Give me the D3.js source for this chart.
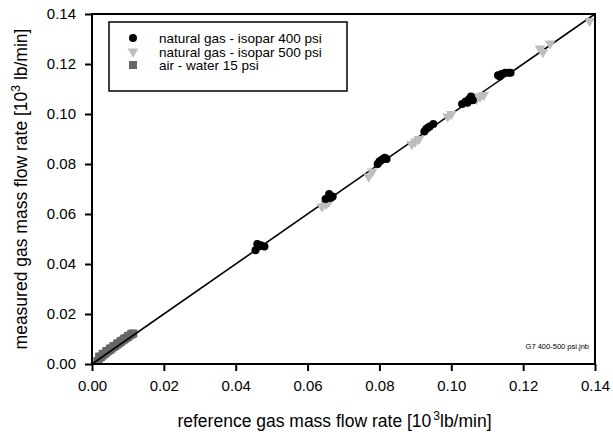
<!DOCTYPE html>
<html><head><meta charset="utf-8">
<script src="https://cdn.jsdelivr.net/npm/d3@7"></script>
<style>body{margin:0;background:#fff}svg{display:block;font-family:Arial,"Liberation Sans",sans-serif}</style>
</head><body><svg id="c" width="613" height="437"></svg>
<script>
const seriesNames = ["natural gas - isopar 400 psi","natural gas - isopar 500 psi","air - water 15 psi"];
const gas400X = [0.0455,0.046,0.0465,0.047,0.048,0.065,0.066,0.066,0.0665,0.067,0.0795,0.080,0.0805,0.081,0.0815,0.082,0.0925,0.093,0.0935,0.094,0.095,0.103,0.104,0.1045,0.105,0.1055,0.106,0.113,0.1135,0.114,0.115,0.116,0.1165];
const gas400Y = [0.0455,0.048,0.047,0.0475,0.047,0.066,0.068,0.0665,0.0665,0.067,0.080,0.081,0.0815,0.082,0.0825,0.082,0.093,0.094,0.0945,0.095,0.096,0.104,0.105,0.1045,0.106,0.107,0.1055,0.1155,0.115,0.116,0.1165,0.1165,0.1165];
const gas500X = [0.064,0.065,0.0655,0.066,0.077,0.078,0.089,0.090,0.091,0.099,0.100,0.106,0.107,0.108,0.109,0.1247,0.1255,0.1275,0.1385];
const gas500Y = [0.063,0.064,0.0645,0.065,0.075,0.077,0.088,0.089,0.090,0.099,0.100,0.107,0.106,0.107,0.1076,0.1262,0.1248,0.1282,0.1372];
const airX = [0.0015,0.002,0.0025,0.003,0.0035,0.004,0.0045,0.005,0.0055,0.006,0.0065,0.007,0.0075,0.008,0.0085,0.009,0.0095,0.010,0.0105,0.011,0.0115,
              0.002,0.003,0.004,0.005,0.006,0.007,0.008,0.009,0.010,0.011];
const airY = [0.0012,0.0022,0.0028,0.0034,0.0040,0.0046,0.0052,0.0056,0.0062,0.0068,0.0072,0.0078,0.0083,0.0088,0.0094,0.0098,0.0104,0.0108,0.0114,0.0118,0.0122,
              0.0030,0.0041,0.0052,0.0062,0.0072,0.0082,0.0092,0.0102,0.0112,0.0121];
const xTicks = [0,0.02,0.04,0.06,0.08,0.10,0.12,0.14];
const yTicks = [0,0.02,0.04,0.06,0.08,0.10,0.12,0.14];

const svg = d3.select("#c");
const L=92,R=595,T=14,B=364;
const x = d3.scaleLinear().domain([0,0.14]).range([L,R]);
const y = d3.scaleLinear().domain([0,0.14]).range([B,T]);

const sq = d3.symbol().type(d3.symbolSquare).size(64);
const tri = d3.symbol().type(d3.symbolTriangle).size(50);
const circ = d3.symbol().type(d3.symbolCircle).size(50);

svg.append("g").selectAll("path").data(airX.map((v,i)=>[v,airY[i]])).join("path")
  .attr("d",sq).attr("transform",d=>`translate(${x(d[0])},${y(d[1])})`).attr("fill","#666");

svg.append("line").attr("x1",x(0)).attr("y1",y(0)).attr("x2",x(0.14)).attr("y2",y(0.14))
  .attr("stroke","#000").attr("stroke-width",1.6);

svg.append("g").selectAll("path").data(gas500X.map((v,i)=>[v,gas500Y[i]])).join("path")
  .attr("d",tri).attr("transform",d=>`translate(${x(d[0])},${y(d[1])}) rotate(180)`).attr("fill","#bdbdbd");
svg.append("g").selectAll("path").data(gas400X.map((v,i)=>[v,gas400Y[i]])).join("path")
  .attr("d",circ).attr("transform",d=>`translate(${x(d[0])},${y(d[1])})`).attr("fill","#000");

svg.append("rect").attr("x",L).attr("y",T).attr("width",R-L).attr("height",B-T)
  .attr("fill","none").attr("stroke","#000").attr("stroke-width",2);

const fmt = d3.format(".2f");
const xa = svg.append("g").attr("transform",`translate(0,${B})`)
  .call(d3.axisBottom(x).tickValues(xTicks).tickFormat(fmt).tickSize(7).tickPadding(9));
const ya = svg.append("g").attr("transform",`translate(${L},0)`)
  .call(d3.axisLeft(y).tickValues(yTicks).tickFormat(fmt).tickSize(7).tickPadding(9));
[xa,ya].forEach(a=>{
  a.select(".domain").remove();
  a.selectAll("line").attr("stroke-width",2);
  a.selectAll("text").attr("font-size",15).attr("font-family","Arial, 'Liberation Sans', sans-serif").attr("fill","#000");
});

const xt = svg.append("text").attr("x",(L+R)/2 - 9).attr("y",427).attr("text-anchor","middle").attr("font-size",17.5);
xt.append("tspan").text("reference gas mass flow rate [10");
xt.append("tspan").attr("dy",-7).attr("dx",2).attr("font-size",12).text("3");
xt.append("tspan").attr("dy",7).text("lb/min]");
const yt = svg.append("text").attr("transform",`translate(27,${(T+B)/2}) rotate(-90)`).attr("text-anchor","middle").attr("font-size",17.5);
yt.append("tspan").text("measured gas mass flow rate [10");
yt.append("tspan").attr("dy",-7).attr("font-size",12).text("3");
yt.append("tspan").attr("dy",7).text(" lb/min]");

svg.append("text").attr("x",589).attr("y",349).attr("text-anchor","end").attr("font-size",7.5).attr("fill","#000").text("G7 400-500 psi.jnb");

const lg = svg.append("g");
lg.append("rect").attr("x",109).attr("y",22).attr("width",238).attr("height",69)
  .attr("fill","#fff").attr("stroke","#000").attr("stroke-width",1.5);
const legSyms = [[circ,"#000",0],[tri,"#bdbdbd",180],[sq,"#666",0]];
seriesNames.forEach((n,i)=>{
  const yy = 38+i*13.5;
  lg.append("path").attr("d",legSyms[i][0]).attr("fill",legSyms[i][1])
    .attr("transform",`translate(133,${yy}) rotate(${legSyms[i][2]})`);
  lg.append("text").attr("x",159).attr("y",yy+5).attr("font-size",13.5).text(n);
});
</script></body></html>
